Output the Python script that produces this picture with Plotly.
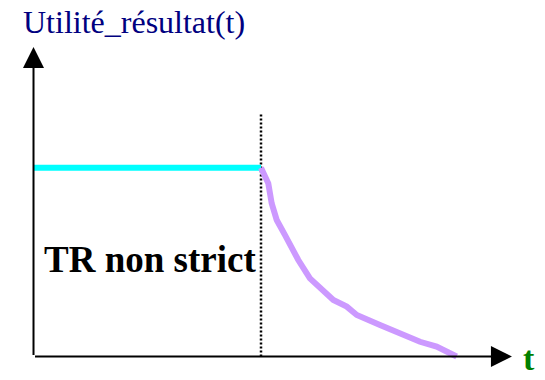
import plotly.graph_objects as go

# Utility of a non-strict real-time result: full value until the deadline,
# then a decreasing value as the result gets later.
deadline = 1.0
full_utility = 1.0

# constant part (before the deadline)
t_flat = [0.0, deadline]
u_flat = [full_utility, full_utility]

# decaying part (after the deadline)
t_decay = [1.00, 1.032, 1.047, 1.069, 1.105, 1.164, 1.215, 1.318, 1.377,
           1.421, 1.523, 1.611, 1.699, 1.772, 1.860]
u_decay = [1.00, 0.917, 0.811, 0.723, 0.644, 0.511, 0.414, 0.299, 0.264,
           0.220, 0.167, 0.123, 0.078, 0.052, 0.0]

# extent of the arrowed axes
t_axis_end = 2.103
u_axis_end = 1.639
u_deadline_top = 1.290

y_title = "Utilité_résultat(t)"
x_title = "t"
zone_label = "TR non strict"

fig = go.Figure()

# deadline marker
fig.add_trace(go.Scatter(
    x=[deadline, deadline], y=[0, u_deadline_top], mode="lines",
    line=dict(color="black", width=2.5, dash="2px,2px"), hoverinfo="skip"))

fig.add_trace(go.Scatter(
    x=t_flat, y=u_flat, mode="lines",
    line=dict(color="#00FFFF", width=6), hoverinfo="skip"))

fig.add_trace(go.Scatter(
    x=t_decay, y=u_decay, mode="lines",
    line=dict(color="#CC99FF", width=6), hoverinfo="skip"))

serif = "Liberation Serif"

annotations = [
    # axes with arrow heads
    dict(x=t_axis_end, y=0, ax=0, ay=0, xref="x", yref="y", axref="x", ayref="y",
         text="", showarrow=True, arrowhead=2, arrowsize=2.1, arrowwidth=2,
         arrowcolor="black"),
    dict(x=0, y=u_axis_end, ax=0, ay=0, xref="x", yref="y", axref="x", ayref="y",
         text="", showarrow=True, arrowhead=2, arrowsize=2.1, arrowwidth=2,
         arrowcolor="black"),
    # labels
    dict(x=-0.055, y=1.772, xref="x", yref="y", text=y_title, showarrow=False,
         xanchor="left", yanchor="middle",
         font=dict(family=serif, size=32, color="#000080")),
    dict(x=2.145, y=-0.008, xref="x", yref="y", text="<b>" + x_title + "</b>",
         showarrow=False, xanchor="left", yanchor="middle",
         font=dict(family=serif, size=34, color="#008000")),
    dict(x=0.037, y=0.512, xref="x", yref="y", text="<b>" + zone_label + "</b>",
         showarrow=False, xanchor="left", yanchor="middle",
         font=dict(family=serif, size=37, color="black")),
]

fig.update_layout(
    width=545, height=380,
    margin=dict(l=0, r=0, t=0, b=0),
    paper_bgcolor="white", plot_bgcolor="white",
    showlegend=False,
    xaxis=dict(range=[-0.1473, 2.2484], visible=False, fixedrange=True),
    yaxis=dict(range=[-0.1245, 1.8882], visible=False, fixedrange=True),
    annotations=annotations,
)

fig.write_html("out.html")
